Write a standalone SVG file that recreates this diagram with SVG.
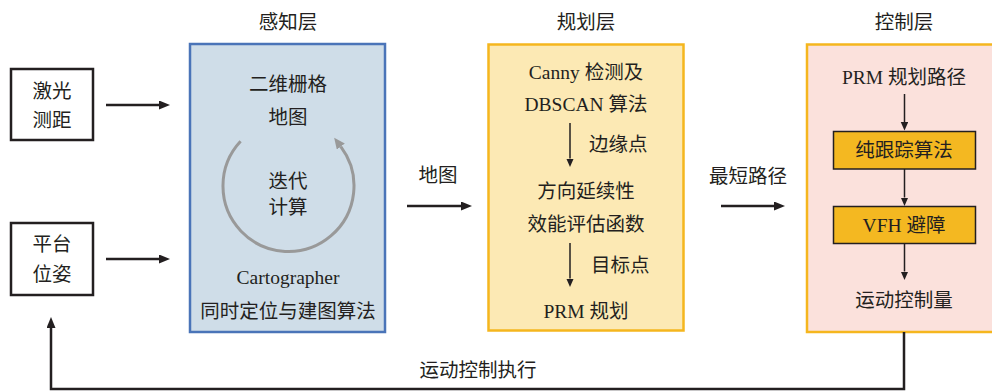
<svg xmlns="http://www.w3.org/2000/svg" width="992" height="391" viewBox="0 0 992 391">
<style>
text{font-family:"Liberation Serif","Noto Sans CJK SC",serif;font-size:19.5px;fill:#231f20;text-anchor:middle}
.st{text-anchor:start}
.thick{stroke:#231f20;stroke-width:2.5;fill:none}
.thin{stroke:#231f20;stroke-width:1.5;fill:none}
.src{fill:#fff;stroke:#231f20;stroke-width:2.5}
.sub{fill:#f4b821;stroke:#231f20;stroke-width:1.5}
</style>
<defs>
<marker id="ah" markerUnits="userSpaceOnUse" markerWidth="12" markerHeight="10" refX="0" refY="4.5" orient="auto">
<path d="M0,0 L11,4.5 L0,9 z" fill="#231f20"/>
</marker>
<marker id="ahs" markerUnits="userSpaceOnUse" markerWidth="10" markerHeight="8" refX="0" refY="3.75" orient="auto">
<path d="M0,0 L8.5,3.75 L0,7.5 z" fill="#231f20"/>
</marker>
<marker id="ahg" markerUnits="userSpaceOnUse" markerWidth="12" markerHeight="12" refX="0" refY="5" orient="auto">
<path d="M0,0 L11,5 L0,10 z" fill="#999"/>
</marker>
</defs>

<text x="288" y="28.5">感知层</text>
<text x="586" y="28.5">规划层</text>
<text x="904" y="28.5">控制层</text>

<g id="laser">
<rect class="src" x="11" y="69" width="82" height="71"/>
<text x="52" y="98">激光</text>
<text x="52" y="127">测距</text>
</g>
<g id="pose">
<rect class="src" x="11" y="223" width="82" height="72"/>
<text x="52" y="251">平台</text>
<text x="52" y="281">位姿</text>
</g>

<g id="perception">
<rect x="190" y="44" width="195" height="288" fill="#cfdde8" stroke="#4a74b8" stroke-width="2.5"/>
<text x="288" y="90.5">二维栅格</text>
<text x="288" y="123.5">地图</text>
<path d="M240.6,141.3 A65.5,65.5 0 1 0 340.8,146.6" fill="none" stroke="#999" stroke-width="3" marker-end="url(#ahg)"/>
<text x="288" y="188">迭代</text>
<text x="288" y="214">计算</text>
<text x="288" y="284">Cartographer</text>
<text x="288" y="318">同时定位与建图算法</text>
</g>

<g id="planning">
<rect x="488.5" y="44.5" width="195" height="286" fill="#fce9b4" stroke="#f5b61e" stroke-width="2.5"/>
<text x="586" y="78.5">Canny 检测及</text>
<text x="586" y="111">DBSCAN 算法</text>
<text class="st" x="589" y="151">边缘点</text>
<text x="586" y="198">方向延续性</text>
<text x="586" y="231">效能评估函数</text>
<text class="st" x="591" y="272">目标点</text>
<text x="586" y="318">PRM 规划</text>
<line class="thin" x1="570" y1="123" x2="570" y2="158.5" marker-end="url(#ahs)"/>
<line class="thin" x1="570" y1="243" x2="570" y2="278.5" marker-end="url(#ahs)"/>
</g>

<g id="control">
<rect x="807" y="44.5" width="200" height="287.5" fill="#fbe1dc" stroke="#f5b61e" stroke-width="2.5"/>
<text x="904" y="83.5">PRM 规划路径</text>
<g id="purepursuit">
<rect class="sub" x="833.5" y="131.5" width="142" height="37.5"/>
<text x="904" y="157">纯跟踪算法</text>
</g>
<g id="vfh">
<rect class="sub" x="833.5" y="206.5" width="142" height="37"/>
<text x="904" y="232">VFH 避障</text>
</g>
<text x="904" y="307">运动控制量</text>
<line class="thin" x1="904.5" y1="94" x2="904.5" y2="122" marker-end="url(#ahs)"/>
<line class="thin" x1="904.5" y1="169" x2="904.5" y2="197.5" marker-end="url(#ahs)"/>
<line class="thin" x1="904.5" y1="243.5" x2="904.5" y2="271.5" marker-end="url(#ahs)"/>
</g>

<g id="connectors">
<line class="thick" x1="106" y1="105" x2="159" y2="105" marker-end="url(#ah)"/>
<line class="thick" x1="106" y1="259" x2="159" y2="259" marker-end="url(#ah)"/>
<line class="thick" x1="407" y1="206" x2="461" y2="206" marker-end="url(#ah)"/>
<line class="thick" x1="721" y1="206" x2="774" y2="206" marker-end="url(#ah)"/>
<polyline class="thick" points="904,332 904,389 51,389 51,328" marker-end="url(#ah)"/>
<text x="438" y="182">地图</text>
<text x="748" y="183">最短路径</text>
<text x="478" y="377">运动控制执行</text>
</g>
</svg>
